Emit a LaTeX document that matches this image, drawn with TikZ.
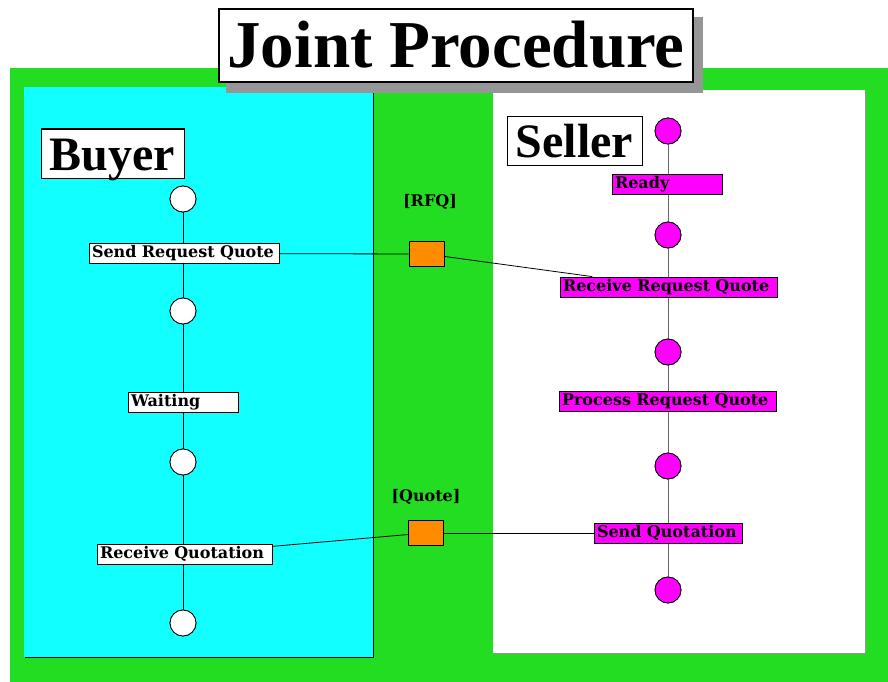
\documentclass[tikz,border=0pt]{standalone}
\usepackage{fontspec}
\setmainfont{Liberation Serif}
\newfontfamily\lblfont{DejaVu Serif}
\definecolor{bggreen}{RGB}{34,221,34}
\definecolor{lanecyan}{RGB}{17,255,255}
\definecolor{statemag}{RGB}{255,0,255}
\definecolor{msgorange}{RGB}{255,140,0}
\definecolor{shadowgray}{RGB}{150,150,150}
\begin{document}
\begin{tikzpicture}[x=1pt,y=-1pt,
  heading/.style={draw=black, line width=1pt, fill=white, inner sep=0pt,
    text height=33pt, text depth=0pt,
    font=\fontsize{48}{48}\selectfont\bfseries},
  lbl/.style={draw=black, line width=0.8pt, inner xsep=3pt, inner ysep=0pt,
    minimum height=20pt, text width=#1, align=left,
    text height=12pt, text depth=4pt,
    font=\lblfont\fontsize{16}{16}\selectfont\bfseries},
  buyerlbl/.style={lbl=#1, fill=white},
  sellerlbl/.style={lbl=#1, fill=statemag},
  bstate/.style={circle, draw=black, line width=0.8pt, fill=white,
    minimum size=26pt, inner sep=0pt},
  sstate/.style={circle, draw=black, line width=0.8pt, fill=statemag,
    minimum size=26pt, inner sep=0pt},
  msg/.style={draw=black, line width=0.8pt, fill=msgorange,
    minimum width=35pt, minimum height=25pt, inner sep=0pt},
  msgname/.style={inner sep=0pt, font=\lblfont\fontsize{16}{16}\selectfont\bfseries},
  flow/.style={draw=black, line width=0.8pt},
  sflow/.style={draw=black!60, line width=0.8pt},
  link/.style={draw=black, line width=0.8pt}]
\useasboundingbox (0,0) rectangle (888,682);
\fill[white] (0,0) rectangle (888,682);
\fill[bggreen] (10,68) rectangle (888,682);

% swimlanes
\fill[black] (25,88) rectangle (374,658);
\fill[lanecyan] (24,87) rectangle (373,657);
\fill[shadowgray] (494,91) rectangle (866,654);
\fill[white] (493,90) rectangle (865,653);

% title with drop shadow
\fill[shadowgray] (226,17) rectangle (703,93);
\node[draw=black, line width=2pt, fill=white, minimum width=474pt,
  minimum height=73pt, inner sep=0pt, text height=45pt, text depth=0pt,
  font=\fontsize{67}{67}\selectfont\bfseries] (title) at (456,45.5) {Joint Procedure};

% lane headings
\node[heading, minimum width=143pt, minimum height=49pt] (buyer) at (112.5,153.5) {Buyer};
\node[heading, minimum width=135pt, minimum height=48pt] (seller) at (574.5,141) {Seller};

% buyer states
\node[bstate] (b1) at (183,199) {};
\node[bstate] (b2) at (183,311) {};
\node[bstate] (b3) at (183,462) {};
\node[bstate] (b4) at (183,623) {};
\path[flow] (b1) -- (b4);

% seller states
\node[sstate] (s1) at (668,131) {};
\node[sstate] (s2) at (668,235) {};
\node[sstate] (s3) at (668,352) {};
\node[sstate] (s4) at (668,466) {};
\node[sstate] (s5) at (668,590) {};
\path[sflow] (s1) -- (s5);
\foreach \n in {s1,s2,s3,s4,s5} \node[sstate] at (\n) {};
\foreach \n in {b1,b2,b3,b4} \node[bstate] at (\n) {};

% activities
\node[buyerlbl=184pt] (sendrq) at (184,253.5) {Send Request Quote};
\node[buyerlbl=104pt] (waiting) at (183,402) {Waiting};
\node[buyerlbl=169pt] (recvq) at (184.5,554) {Receive Quotation};
\node[sellerlbl=104pt] (ready) at (667,184) {Ready};
\node[sellerlbl=211pt] (recvrq) at (668.5,287) {Receive Request Quote};
\node[sellerlbl=211pt] (procrq) at (667.5,401) {Process Request Quote};
\node[sellerlbl=142pt] (sendq) at (668,533) {Send Quotation};

% messages
\node[msg] (rfq) at (426.5,254) {};
\node[msgname] (rfqname) at (430,202) {[RFQ]};
\node[msg] (quote) at (425.5,533) {};
\node[msgname] (quotename) at (426,497) {[Quote]};

\path[link] (sendrq) -- (rfq);
\path[link] (rfq) -- (recvrq);
\path[link] (recvq) -- (quote);
\path[link] (quote) -- (sendq);
\end{tikzpicture}
\end{document}
